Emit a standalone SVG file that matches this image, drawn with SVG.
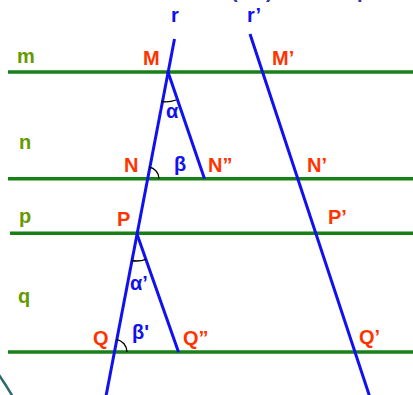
<svg xmlns="http://www.w3.org/2000/svg" width="413" height="395" viewBox="0 0 413 395">
<style>
.par{stroke:#178017;stroke-width:3.5;fill:none}
.sec{stroke:#1010f0;stroke-width:3;fill:none;stroke-linecap:butt}
.arc{stroke:#000;stroke-width:1.3;fill:none}
text{font-family:"Liberation Sans",Arial,sans-serif;font-weight:bold;font-size:20px}
.pt{fill:#ff3300}
.ln{fill:#669900}
.bl{fill:#1010f0}
.tt{fill:#333399}
</style>
<rect width="413" height="395" fill="#fff"/>
<text class="tt" x="231" y="-2">(</text>
<text class="tt" x="266" y="-2">)</text>
<text class="tt" x="357" y="-2">p</text>
<g id="connectors">
<line id="m" class="par" x1="8" y1="72" x2="413" y2="72"/>
<line id="n" class="par" x1="8" y1="178.7" x2="413" y2="178.7"/>
<line id="p" class="par" x1="10" y1="233.3" x2="413" y2="233.3"/>
<line id="q" class="par" x1="8" y1="352" x2="413" y2="352"/>
<line id="r" class="sec" x1="174.5" y1="39" x2="106" y2="396"/>
<line id="rp" class="sec" x1="250" y1="34" x2="369.5" y2="396"/>
<line id="MN2" class="sec" x1="168" y1="72" x2="204.5" y2="178.7"/>
<line id="PQ2" class="sec" x1="136.7" y1="233.3" x2="178.5" y2="352"/>
<path class="arc" d="M161.5 101.5 A29 29 0 0 0 176 100"/>
<path class="arc" d="M149 167 A12 12 0 0 1 159 178.7"/>
<path class="arc" d="M131.4 260.5 A28 28 0 0 0 145.9 259.4"/>
<path class="arc" d="M116.5 339.3 A13 13 0 0 1 127 352"/>
<path d="M-1 375 Q6 385 13 397" stroke="#2e6b6b" stroke-width="2.5" fill="none"/>
</g>
<g id="label-r"><text class="bl" x="171" y="22">r</text></g>
<g id="label-r2"><text class="bl" x="247" y="22">r’</text></g>
<g id="label-m"><text class="ln" x="17" y="63">m</text></g>
<g id="label-n"><text class="ln" x="19" y="149">n</text></g>
<g id="label-p"><text class="ln" x="19" y="223">p</text></g>
<g id="label-q"><text class="ln" x="18" y="303">q</text></g>
<g id="node-M"><text class="pt" x="143" y="65">M</text></g>
<g id="node-M2"><text class="pt" x="272" y="65">M’</text></g>
<g id="node-N"><text class="pt" x="124" y="172">N</text></g>
<g id="node-N3"><text class="pt" x="208" y="172">N”</text></g>
<g id="node-N2"><text class="pt" x="307" y="172">N’</text></g>
<g id="node-P"><text class="pt" x="117" y="226">P</text></g>
<g id="node-P2"><text class="pt" x="328" y="224">P’</text></g>
<g id="node-Q"><text class="pt" x="93" y="345">Q</text></g>
<g id="node-Q3"><text class="pt" x="183" y="345">Q”</text></g>
<g id="node-Q2"><text class="pt" x="359" y="344">Q’</text></g>
<g id="angle-alpha"><text class="bl" x="166" y="118">α</text></g>
<g id="angle-beta"><text class="bl" x="174" y="171">β</text></g>
<g id="angle-alpha2"><text class="bl" x="130" y="290">α’</text></g>
<g id="angle-beta2"><text class="bl" x="132" y="339">β'</text></g>
</svg>
